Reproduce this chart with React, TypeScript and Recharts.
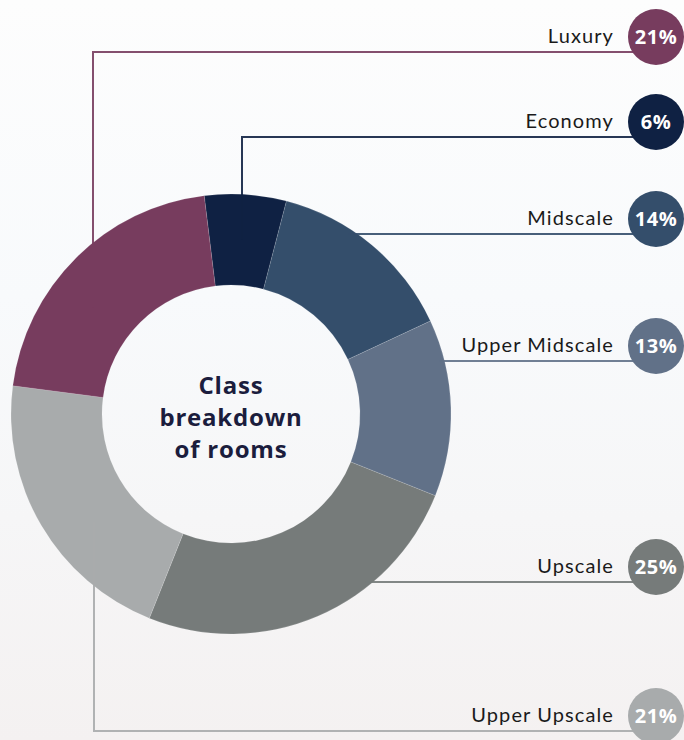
import { PieChart, Pie, Cell, Customized } from "recharts";

// room class shares, clockwise from the top
const classes = ["Economy", "Midscale", "Upper Midscale", "Upscale", "Upper Upscale", "Luxury"];
const shares = [6, 14, 13, 25, 21, 21];
const colors = ["#0f2143", "#344e6b", "#617188", "#767b7a", "#a8abac", "#773c5e"];
const title = ["Class", "breakdown", "of rooms"];

const data = classes.map((name, i) => ({ name, value: shares[i] }));

// leader line layout (y of the horizontal run, x of the vertical run if any)
const lineY = [137, 234, 361, 582, 731, 52];
const elbowX: (number | null)[] = [242, null, null, null, 94, 93];

const BADGE_X = 656;
const BADGE_R = 28;
const FONT = "Lato, 'Open Sans', sans-serif";
const BOLD = "'Open Sans', Lato, sans-serif";

const renderLeader = (props: any) => {
  const { cx, cy, innerRadius, outerRadius, index } = props;
  const y = lineY[index];
  const ex = elbowX[index];
  let d = "";
  if (ex != null) {
    const mr = (innerRadius + outerRadius) / 2;
    const dx = ex - cx;
    const h = Math.sqrt(Math.max(mr * mr - dx * dx, 0));
    const y0 = y < cy ? cy - h : cy + h;
    d = `M${ex},${y0} L${ex},${y} L${BADGE_X},${y}`;
  } else {
    const r = outerRadius - 5;
    const dy = y - cy;
    const x0 = cx + Math.sqrt(Math.max(r * r - dy * dy, 0));
    d = `M${x0},${y} L${BADGE_X},${y}`;
  }
  return (
    <path
      key={`leader-${index}`}
      d={d}
      fill="none"
      stroke={colors[index]}
      strokeOpacity={0.9}
      strokeWidth={2}
    />
  );
};

const renderBadge = (props: any) => {
  const { index, value } = props;
  const y = lineY[index];
  const by = y - 15;
  return (
    <g key={`badge-${index}`}>
      <text
        x={614}
        y={y - 9}
        textAnchor="end"
        fontFamily={FONT}
        fontSize={20}
        letterSpacing={1.1}
        fill="#1a1a1a"
      >
        {classes[index]}
      </text>
      <circle cx={BADGE_X} cy={by} r={BADGE_R} fill={colors[index]} />
      <text
        x={BADGE_X}
        y={by + 7}
        textAnchor="middle"
        fontFamily={BOLD}
        fontWeight={700}
        fontSize={20}
        letterSpacing={0.6}
        fill="#ffffff"
      >
        {`${value}%`}
      </text>
    </g>
  );
};

const CenterTitle = () => (
  <text
    textAnchor="middle"
    fontFamily={BOLD}
    fontWeight={700}
    fontSize={24}
    letterSpacing={0.8}
    fill="#1b1d3d"
  >
    {title.map((t, i) => (
      <tspan key={t} x={231} y={394 + i * 32}>
        {t}
      </tspan>
    ))}
  </text>
);

export default function App() {
  return (
    <div
      style={{
        position: "absolute",
        left: 0,
        top: 0,
        width: 684,
        height: 740,
        overflow: "hidden",
        background: "linear-gradient(180deg, #fdfdfd 0%, #f8fafc 40%, #f6f6f7 70%, #f4f1f1 100%)",
      }}
    >
      <PieChart width={684} height={740} margin={{ top: 0, right: 0, bottom: 0, left: 0 }}>
        <Pie
          data={data}
          dataKey="value"
          cx={231}
          cy={414}
          innerRadius={129}
          outerRadius={220}
          startAngle={97}
          endAngle={-263}
          label={renderLeader}
          labelLine={false}
          isAnimationActive={false}
        >
          {data.map((d) => (
            <Cell key={d.name} fill="none" stroke="none" />
          ))}
        </Pie>
        <Pie
          data={data}
          dataKey="value"
          cx={231}
          cy={414}
          innerRadius={129}
          outerRadius={220}
          startAngle={97}
          endAngle={-263}
          label={renderBadge}
          labelLine={false}
          isAnimationActive={false}
        >
          {data.map((d, i) => (
            <Cell key={d.name} fill={colors[i]} stroke="#ffffff" strokeOpacity={0.25} strokeWidth={0.5} />
          ))}
        </Pie>
        <Customized component={CenterTitle} />
      </PieChart>
    </div>
  );
}
